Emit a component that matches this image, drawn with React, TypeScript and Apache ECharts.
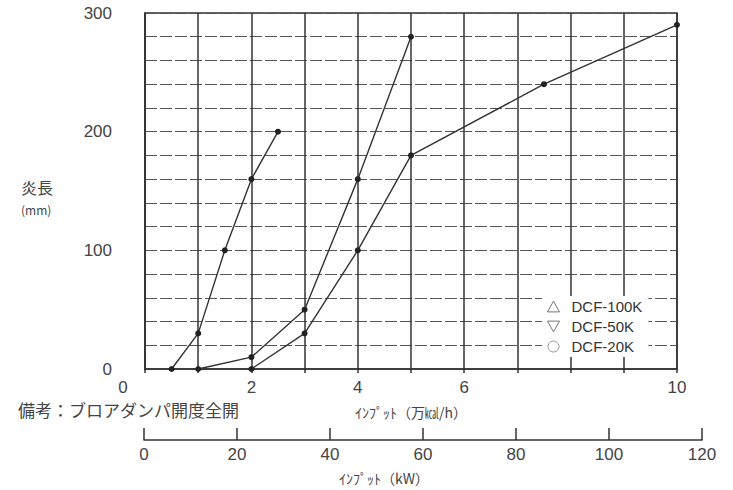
import React, { useEffect, useRef } from "react";
import * as echarts from "echarts";

const seriesNames = ["DCF-100K", "DCF-50K", "DCF-20K"];
const dcf20k: [number, number][] = [
  [0.5, 0],
  [1.0, 30],
  [1.5, 100],
  [2.0, 160],
  [2.5, 200],
];
const dcf50k: [number, number][] = [
  [1.0, 0],
  [2.0, 10],
  [3.0, 50],
  [4.0, 160],
  [5.0, 280],
];
const dcf100k: [number, number][] = [
  [2.0, 0],
  [3.0, 30],
  [4.0, 100],
  [5.0, 180],
  [7.5, 240],
  [10.0, 290],
];
const xTickLabels = [0, 2, 4, 6, 10];
const yTickLabels = [0, 100, 200, 300];
const kwTicks = [0, 20, 40, 60, 80, 100, 120];

const NUM_FONT = "'Liberation Sans', Arial, sans-serif";
const JP_FONT = "'Noto Sans CJK JP', sans-serif";
const INK = "#333";

export default function App() {
  const ref = useRef<HTMLDivElement>(null);
  useEffect(() => {
    if (!ref.current) return;
    const chart = echarts.init(ref.current, undefined, { renderer: "svg" });
    const lineCommon = {
      type: "line" as const,
      xAxisIndex: 0,
      yAxisIndex: 0,
      symbol: "circle",
      symbolSize: 6,
      lineStyle: { color: INK, width: 1.4 },
      itemStyle: { color: "#222" },
      z: 5,
    };
    chart.setOption({
      animation: false,
      backgroundColor: "#fff",
      grid: [
        {
          left: 145,
          right: 56,
          top: 13,
          bottom: 121,
          show: true,
          borderColor: INK,
          borderWidth: 1.5,
        },
        { left: 144, right: 31, top: 420, height: 20 },
      ],
      xAxis: [
        {
          type: "value",
          gridIndex: 0,
          min: 0,
          max: 10,
          interval: 1,
          name: "ｲﾝﾌﾟｯﾄ（万㎉/h）",
          nameLocation: "middle",
          nameGap: 36,
          nameTextStyle: { fontFamily: JP_FONT, fontSize: 14, color: "#444" },
          axisLine: { show: true, lineStyle: { color: INK, width: 1.5 } },
          axisTick: { show: true, length: 4, lineStyle: { color: INK, width: 1.5 } },
          axisLabel: {
            margin: 10,
            fontFamily: NUM_FONT,
            fontSize: 17,
            color: "#444",
            formatter: (v: number) =>
              xTickLabels.includes(v) ? (v === 0 ? "{z|0}" : String(v)) : "",
            rich: {
              z: { padding: [0, 44, 0, 0], fontFamily: NUM_FONT, fontSize: 17, color: "#444" },
            },
          },
          splitLine: { show: true, lineStyle: { color: INK, width: 1.5 } },
        },
        {
          type: "value",
          gridIndex: 1,
          min: 0,
          max: 120,
          interval: 20,
          name: "ｲﾝﾌﾟｯﾄ（kW）",
          nameLocation: "middle",
          nameGap: 31,
          nameTextStyle: {
            fontFamily: JP_FONT,
            fontSize: 14,
            color: "#444",
            padding: [0, 78, 0, 0],
          },
          axisLine: { show: true, lineStyle: { color: INK, width: 1.5 } },
          axisTick: { show: true, inside: true, length: 12, lineStyle: { color: INK, width: 1.5 } },
          axisLabel: {
            margin: 6,
            fontFamily: NUM_FONT,
            fontSize: 17,
            color: "#444",
            formatter: (v: number) => (kwTicks.includes(v) ? String(v) : ""),
          },
          splitLine: { show: false },
        },
      ],
      yAxis: [
        {
          type: "value",
          gridIndex: 0,
          min: 0,
          max: 300,
          interval: 20,
          axisLine: { show: true, lineStyle: { color: INK, width: 1.5 } },
          axisTick: { show: false },
          axisLabel: {
            margin: 33,
            fontFamily: NUM_FONT,
            fontSize: 17,
            color: "#444",
            formatter: (v: number) => (yTickLabels.includes(v) ? String(v) : ""),
          },
          splitLine: { show: true, lineStyle: { color: "#555", width: 1, type: [12, 3] } },
        },
        { type: "value", gridIndex: 1, show: false, min: 0, max: 1 },
      ],
      legend: {
        orient: "vertical",
        left: 542,
        top: 296,
        padding: [3, 6, 3, 5],
        backgroundColor: "#fff",
        itemWidth: 12,
        itemHeight: 11,
        itemGap: 5,
        textStyle: {
          fontFamily: NUM_FONT,
          fontSize: 15,
          color: "#333",
          padding: [0, 0, 0, 7],
        },
        data: [
          {
            name: "DCF-100K",
            icon: "path://M5,0 L10,9 L0,9 Z",
            itemStyle: { color: "#fff", borderColor: "#777", borderWidth: 1 },
          },
          {
            name: "DCF-50K",
            icon: "path://M0,0 L10,0 L5,9 Z",
            itemStyle: { color: "#fff", borderColor: "#777", borderWidth: 1 },
          },
          {
            name: "DCF-20K",
            icon: "circle",
            itemStyle: { color: "#fff", borderColor: "#999", borderWidth: 1 },
          },
        ],
      },
      graphic: [
        {
          type: "text",
          left: 21,
          top: 179,
          style: { text: "炎長", font: `16px ${JP_FONT}`, fill: "#444" },
        },
        {
          type: "text",
          left: 21,
          top: 203,
          style: { text: "(mm)", font: `12px ${JP_FONT}`, fill: "#444" },
        },
        {
          type: "text",
          left: 18,
          top: 401,
          style: { text: "備考：ブロアダンパ開度全開", font: `17px ${JP_FONT}`, fill: "#444" },
        },
      ],
      series: [
        { ...lineCommon, name: seriesNames[0], data: dcf100k },
        { ...lineCommon, name: seriesNames[1], data: dcf50k },
        { ...lineCommon, name: seriesNames[2], data: dcf20k },
        {
          type: "line",
          name: "_kw",
          xAxisIndex: 1,
          yAxisIndex: 1,
          data: [],
          silent: true,
        },
      ],
    });
    return () => chart.dispose();
  }, []);
  return (
    <div
      ref={ref}
      style={{ position: "fixed", left: 0, top: 0, width: 733, height: 490 }}
    />
  );
}
